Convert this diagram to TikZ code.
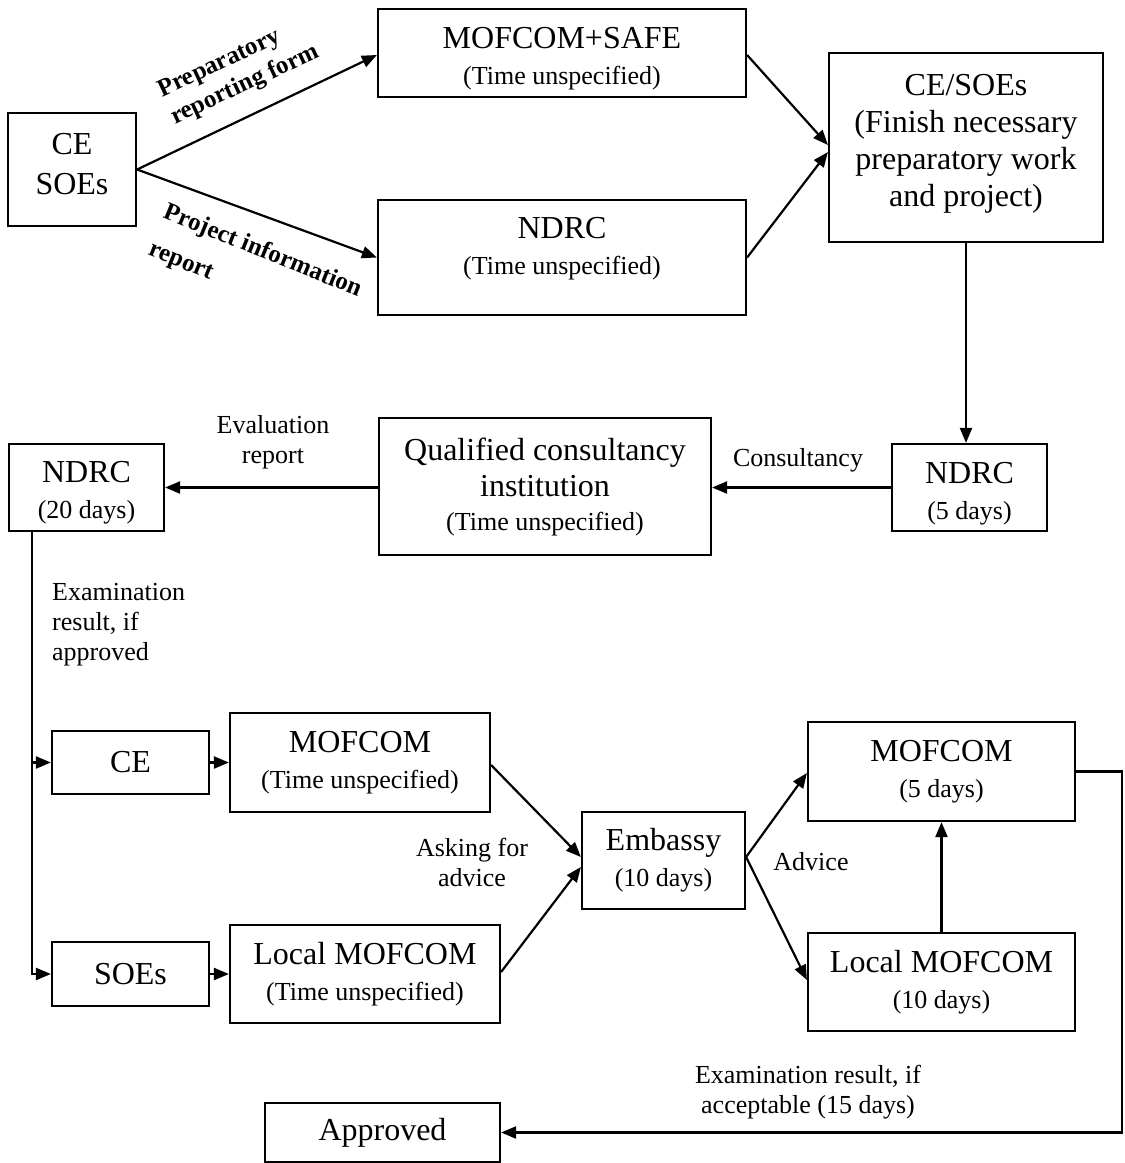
\documentclass[tikz,border=0pt]{standalone}
\usepackage{fontspec}
\setmainfont{Liberation Serif}
\usetikzlibrary{arrows.meta}
\newcommand\fmain{\fontsize{32}{36}\selectfont}
\newcommand\fsub{\fontsize{26}{36}\selectfont}
\newcommand\flab{\fontsize{26}{30}\selectfont}
\newcommand\frot{\bfseries\fontsize{25}{30}\selectfont}
\newcommand\frotb{\bfseries\fontsize{25}{40}\selectfont}
\newcommand\tstrut[1]{\rule{0pt}{#1}}
\begin{document}
\begin{tikzpicture}[x=1pt,y=-1pt,
  box/.style={draw,line width=2.2pt,inner sep=0pt,align=center,font=\fsub},
  lab/.style={align=center,font=\flab,inner sep=0pt},
  rlab/.style={align=left,inner sep=0pt},
  arr/.style={line width=2.2pt,-{Triangle[length=15pt,width=12pt]}}]
\useasboundingbox (0,0) rectangle (1125,1163);

% boxes
\node[box,minimum width=128pt,minimum height=113pt] (ceso) at (72,169.5) {{\fmain CE}\\[4pt]{\fmain SOEs}\\[-24pt]\mbox{}};
\node[box,minimum width=368pt,minimum height=88pt] (msafe) at (562,53) {{\fmain\tstrut{32pt}MOFCOM+SAFE}\\(Time unspecified)};
\node[box,minimum width=368pt,minimum height=115pt] (ndrc1) at (562,257.5) {{\fmain NDRC}\\(Time unspecified)\\[-12pt]\mbox{}};
\node[box,font=\fontsize{32}{37}\selectfont,minimum width=274pt,minimum height=189pt] (cefin) at (966,147.5) {CE/SOEs\\(Finish necessary\\preparatory work\\and project)\\[-22pt]\mbox{}};
\node[box,minimum width=155pt,minimum height=87pt] (ndrc5) at (969.5,487.5) {{\fmain\tstrut{33pt}NDRC}\\(5 days)};
\node[box,minimum width=332pt,minimum height=137pt] (qual) at (545,486.5) {{\fmain Qualified consultancy}\\{\fmain institution}\\[-2pt](Time unspecified)};
\node[box,minimum width=155pt,minimum height=87pt] (ndrc20) at (86.5,487.5) {{\fmain\tstrut{31pt}NDRC}\\(20 days)};
\node[box,minimum width=157pt,minimum height=63pt] (ce) at (130.5,762.5) {\fmain CE};
\node[box,minimum width=260pt,minimum height=99pt] (mof1) at (360,762.5) {{\fmain MOFCOM}\\(Time unspecified)};
\node[box,minimum width=157pt,minimum height=64pt] (soes) at (130.5,974) {\fmain SOEs};
\node[box,minimum width=270pt,minimum height=98pt] (lmof1) at (365,974) {{\fmain Local MOFCOM}\\(Time unspecified)};
\node[box,minimum width=163pt,minimum height=97pt] (emb) at (663.5,860.5) {{\fmain Embassy}\\(10 days)};
\node[box,minimum width=267pt,minimum height=99pt] (mof5) at (941.5,771.5) {{\fmain MOFCOM}\\(5 days)};
\node[box,minimum width=267pt,minimum height=98pt] (lmof10) at (941.5,982) {{\fmain Local MOFCOM}\\(10 days)};
\node[box,minimum width=235pt,minimum height=59pt] (appr) at (382.5,1132.5) {\fmain Approved};

% labels
\node[rlab,font=\frot,rotate=25] (lprep) at (239,72) {Preparatory\\reporting form};
\node[rlab,font=\frotb,rotate=-22] (lproj) at (255,270) {Project information\\report};
\node[lab] (lcons) at (798,460) {Consultancy};
\node[lab] (leval) at (273,442) {Evaluation\\report};
\node[lab,align=left,anchor=west] (lexam) at (52,625) {Examination\\result, if\\approved};
\node[lab] (lask) at (472,862) {Asking for\\advice};
\node[lab] (ladv) at (811,862) {Advice};
\node[lab] (lacc) at (808,1092) {Examination result, if\\acceptable (15 days)};

% connectors
\draw[arr] (ceso.east) -- ([yshift=-2pt]msafe.west);
\draw[arr] (ceso.east) -- (ndrc1.west);
\draw[arr] ([yshift=-2pt]msafe.east) -- ([yshift=2.5pt]cefin.west);
\draw[arr] (ndrc1.east) -- ([yshift=-4.5pt]cefin.west);
\draw[arr] (cefin.south) -- (cefin.south |- ndrc5.north);
\draw[arr] (ndrc5.west) -- (ndrc5.west -| qual.east);
\draw[arr] (ndrc20.east -| qual.west) -- (ndrc20.east);
\coordinate (tk) at ([xshift=24pt]ndrc20.south west);
\draw[arr] (tk) |- (soes.west);
\draw[arr] (tk |- ce.west) -- (ce.west);
\draw[arr] (ce.east) -- (mof1.west);
\draw[arr] (soes.east) -- (lmof1.west);
\draw[arr] ([yshift=-2.5pt]mof1.east) -- ([yshift=3.5pt]emb.west);
\draw[arr] ([yshift=2pt]lmof1.east) -- ([yshift=-6.5pt]emb.west);
\draw[arr] ([yshift=3.5pt]emb.east) -- ([yshift=-1.5pt]mof5.west);
\draw[arr] ([yshift=3.5pt]emb.east) -- ([yshift=2pt]lmof10.west);
\draw[arr] (lmof10.north) -- (mof5.south);
\coordinate (rc) at (1122,0);
\draw[arr] (mof5.east) -- (mof5.east -| rc) -- (rc |- appr.east) -- (appr.east);
\end{tikzpicture}
\end{document}
